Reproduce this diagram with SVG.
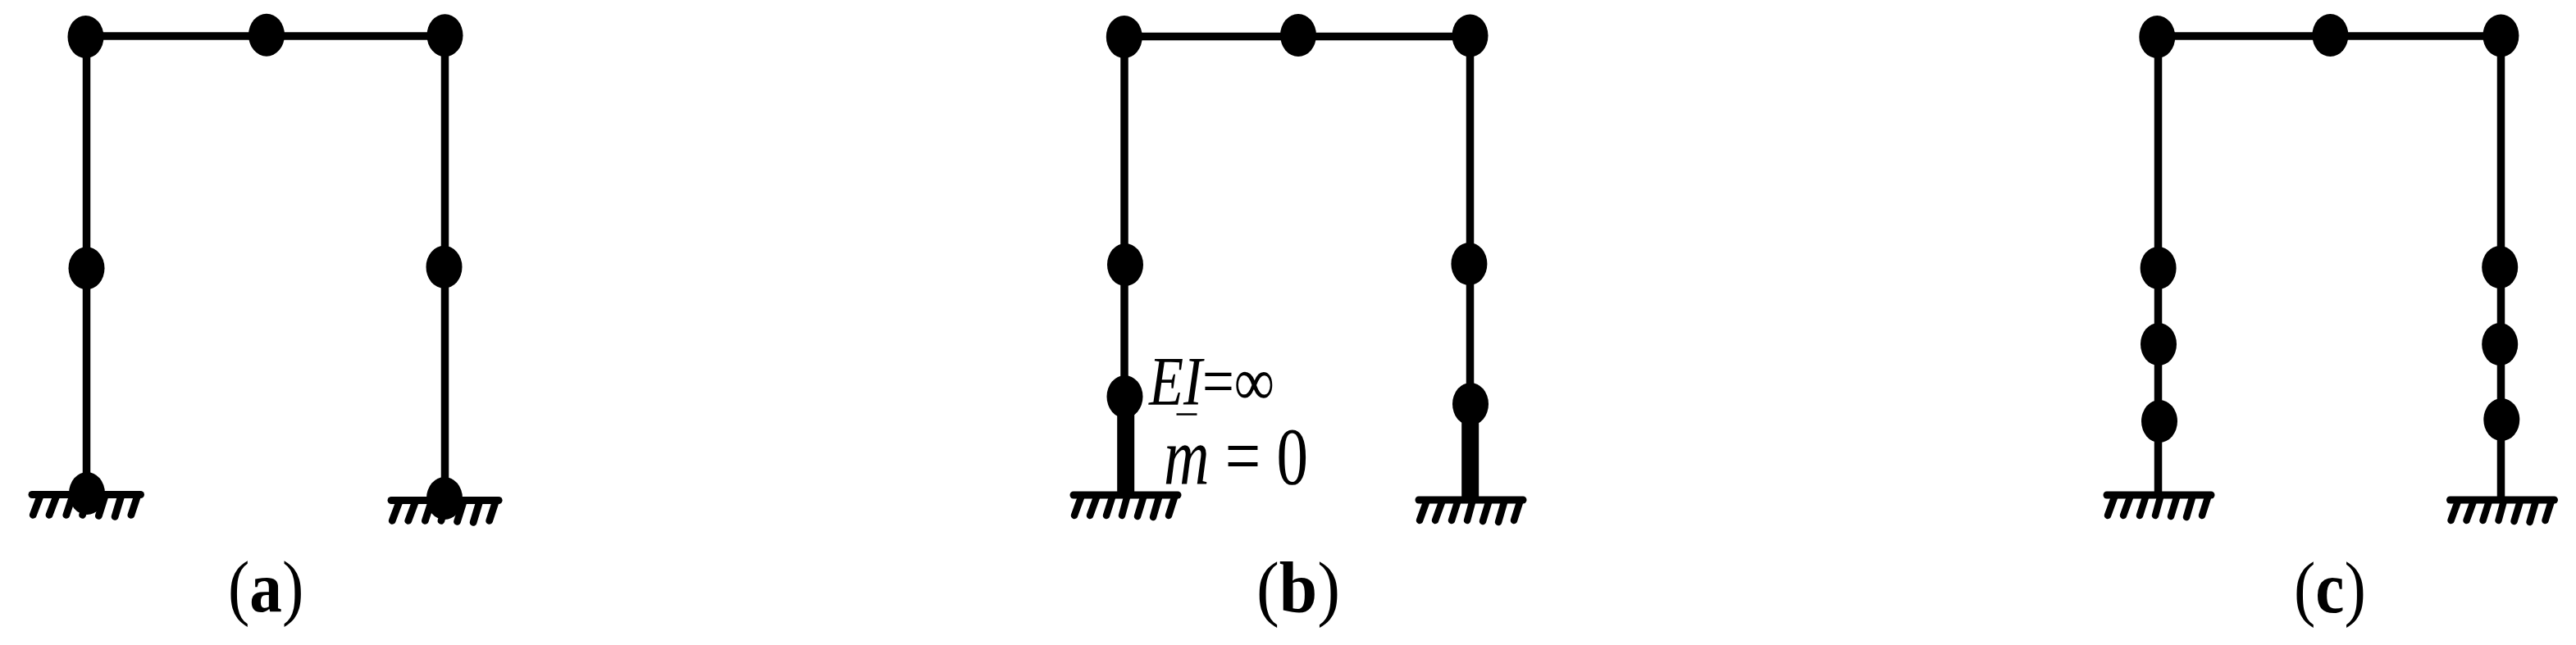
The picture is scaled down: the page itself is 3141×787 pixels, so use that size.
<svg xmlns="http://www.w3.org/2000/svg" width="3141" height="787" viewBox="0 0 3141 787">
<style>
.n{fill:#000}
.b{stroke:#000;stroke-width:9.500;fill:none}
.t{stroke:#000;stroke-width:21;fill:none}
.g{stroke:#000;stroke-width:9;fill:none;stroke-linecap:round}
.h{stroke:#000;stroke-width:8.500;fill:none;stroke-linecap:round}
text{font-family:"Liberation Serif","Times New Roman",serif;fill:#000}
.cap{font-size:88px}
.cap tspan{font-weight:bold}
.i{font-style:italic}
</style>
<defs>
<ellipse id="node" class="n" cx="0" cy="0" rx="22" ry="26"/>
<g id="ground">
<line class="g" x1="5" y1="0" x2="132" y2="0"/>
<g class="h">
<line x1="14" y1="3" x2="6" y2="25"/>
<line x1="33" y1="3" x2="25" y2="25"/>
<line x1="52" y1="3" x2="45" y2="25"/>
<line x1="70" y1="3" x2="64" y2="25"/>
<line x1="90" y1="3" x2="83" y2="26"/>
<line x1="109" y1="3" x2="102" y2="27"/>
<line x1="128" y1="3" x2="121" y2="25"/>
</g>
</g>
</defs>
<rect width="3141" height="787" fill="#fff"/>
<g id="connectors">
<path class="b" d="M105.500 44V603M105.500 44H542.500M542.500 44V610"/>
<path class="b" d="M1371 44.500V604M1371 44.500H1792.500M1792.500 44.500V610"/>
<path class="t" d="M1372.700 484V604M1792.700 493V610"/>
<path class="b" d="M2631.500 44V604M2631.500 44H3049.500V610"/>
</g>
<g id="grounds">
<use href="#ground" transform="translate(34,603.500) scale(1.04,1)"/>
<use href="#ground" transform="translate(472,610.500) scale(1.03,1)"/>
<use href="#ground" transform="translate(1304,604)"/>
<use href="#ground" transform="translate(1725,610)"/>
<use href="#ground" transform="translate(2564,604)"/>
<use href="#ground" transform="translate(2982.500,610)"/>
</g>
<g id="node-a1"><use href="#node" x="104.500" y="45"/></g>
<g id="node-a2"><use href="#node" x="325" y="42.700"/></g>
<g id="node-a3"><use href="#node" x="542.500" y="43.200"/></g>
<g id="node-a4"><use href="#node" x="105.500" y="327.300"/></g>
<g id="node-a5"><use href="#node" x="541.500" y="325.800"/></g>
<g id="node-a6"><use href="#node" x="106" y="602"/></g>
<g id="node-a7"><use href="#node" x="542" y="608"/></g>
<g id="node-b1"><use href="#node" x="1370.800" y="45"/></g>
<g id="node-b2"><use href="#node" x="1583" y="43"/></g>
<g id="node-b3"><use href="#node" x="1792.500" y="43.500"/></g>
<g id="node-b4"><use href="#node" x="1372" y="323"/></g>
<g id="node-b5"><use href="#node" x="1791.400" y="322"/></g>
<g id="node-b6"><use href="#node" x="1371.500" y="484"/></g>
<g id="node-b7"><use href="#node" x="1793" y="493"/></g>
<g id="node-c1"><use href="#node" x="2630.300" y="45"/></g>
<g id="node-c2"><use href="#node" x="2841.400" y="43"/></g>
<g id="node-c3"><use href="#node" x="3049.400" y="43.500"/></g>
<g id="node-c4"><use href="#node" x="2631.600" y="327"/></g>
<g id="node-c5"><use href="#node" x="2632" y="420"/></g>
<g id="node-c6"><use href="#node" x="2633" y="514"/></g>
<g id="node-c7"><use href="#node" x="3048.200" y="326"/></g>
<g id="node-c8"><use href="#node" x="3048.200" y="420"/></g>
<g id="node-c9"><use href="#node" x="3050.300" y="512"/></g>
<g id="label-ei">
<text transform="translate(1401,494) scale(0.82,1)" font-size="84"><tspan class="i">EI</tspan>=∞</text>
<line x1="1434.500" y1="505.500" x2="1459.500" y2="505.500" stroke="#000" stroke-width="2.500"/>
</g>
<g id="label-m">
<text transform="translate(1419,590) scale(0.77,1)" font-size="100"><tspan class="i">m</tspan> = 0</text>
</g>
<text id="cap-a" class="cap" transform="translate(278,745.500) scale(0.9,1)">(<tspan>a</tspan>)</text>
<text id="cap-b" class="cap" transform="translate(1532,747) scale(0.95,1)">(<tspan>b</tspan>)</text>
<text id="cap-c" class="cap" transform="translate(2797,747) scale(0.9,1)">(<tspan>c</tspan>)</text>
</svg>
